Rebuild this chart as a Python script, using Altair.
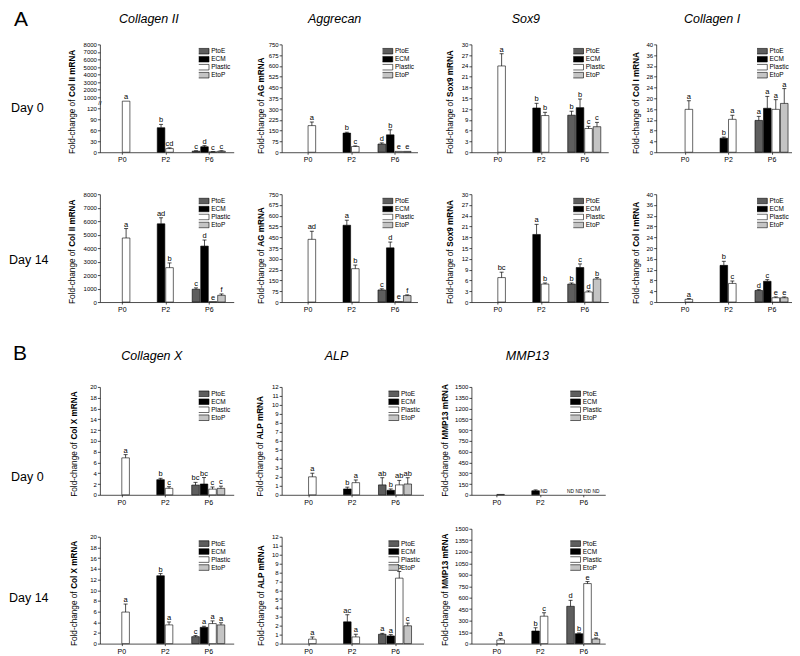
import altair as alt
import pandas as pd

FONT = "Liberation Sans"

groups = ["P0", "P2", "P6"]
series = ["PtoE", "ECM", "Plastic", "EtoP"]
series_fill = ["#5e5e5e", "#000000", "#ffffff", "#c4c4c4"]

# bars that exist in every panel, in this order
bar_group = ["P0", "P2", "P2", "P6", "P6", "P6", "P6"]
bar_series = ["Plastic", "ECM", "Plastic", "PtoE", "ECM", "Plastic", "EtoP"]

# ---- A: chondrogenic markers ----
col2_d0_mean = [690, 67, 10, 3, 15, 1, 3]
col2_d0_err = [0, 9, 2, 1, 3, 0.5, 1]
col2_d0_sig = ["a", "b", "cd", "c", "d", "c", "c"]
col2_d14_mean = [4750, 5800, 2550, 950, 4150, 30, 500]
col2_d14_err = [700, 450, 350, 100, 450, 0, 100]
col2_d14_sig = ["a", "ad", "b", "c", "d", "e", "f"]

agg_d0_mean = [185, 133, 40, 57, 121, 6, 6]
agg_d0_err = [25, 6, 4, 8, 35, 0, 0]
agg_d0_sig = ["a", "b", "c", "d", "b", "e", "e"]
agg_d14_mean = [436, 534, 232, 84, 377, 4, 45]
agg_d14_err = [56, 35, 25, 8, 40, 0, 5]
agg_d14_sig = ["ad", "a", "b", "c", "d", "e", "f"]

sox9_d0_mean = [24, 12.3, 10.2, 10.3, 12.4, 6.6, 7.1]
sox9_d0_err = [3.4, 1.3, 0.9, 1.1, 2.4, 0.6, 1.2]
sox9_d0_sig = ["a", "b", "b", "b", "b", "c", "c"]
sox9_d14_mean = [6.8, 18.8, 5.0, 5.0, 9.6, 2.8, 6.4]
sox9_d14_err = [1.5, 2.8, 0.3, 0.3, 1.0, 0.3, 0.4]
sox9_d14_sig = ["bc", "a", "b", "b", "c", "d", "b"]

col1_d0_mean = [15.9, 5.2, 12.2, 11.8, 16.3, 15.9, 18.1]
col1_d0_err = [3.2, 0.4, 1.5, 1.5, 4.4, 3.6, 5.5]
col1_d0_sig = ["a", "b", "a", "a", "a", "a", "a"]
col1_d14_mean = [1.0, 13.6, 6.9, 4.3, 7.7, 1.6, 1.6]
col1_d14_err = [0.3, 1.5, 0.9, 0.3, 0.6, 0.3, 0.3]
col1_d14_sig = ["a", "b", "c", "d", "c", "e", "e"]

# ---- B: hypertrophic markers ----
colx_d0_mean = [6.85, 2.8, 1.2, 1.8, 2.0, 1.05, 1.2]
colx_d0_err = [0.6, 0.25, 0.3, 0.5, 1.2, 0.4, 0.4]
colx_d0_sig = ["a", "b", "c", "bc", "bc", "c", "c"]
colx_d14_mean = [5.9, 12.7, 3.5, 1.3, 3.05, 3.75, 3.5]
colx_d14_err = [1.5, 0.4, 0.55, 0.2, 0.2, 0.5, 0.4]
colx_d14_sig = ["a", "b", "a", "c", "a", "a", "a"]

alp_d0_mean = [2.0, 0.65, 1.35, 1.1, 0.5, 1.1, 1.2]
alp_d0_err = [0.4, 0.2, 0.3, 0.8, 0.15, 0.5, 0.7]
alp_d0_sig = ["a", "b", "a", "ab", "b", "ab", "ab"]
alp_d14_mean = [0.5, 2.44, 0.75, 1.05, 0.86, 7.35, 2.0]
alp_d14_err = [0.25, 0.8, 0.3, 0.1, 0.15, 0.75, 0.3]
alp_d14_sig = ["a", "ac", "a", "a", "a", "b", "c"]

mmp13_d0_mean = [5, 56, None, None, None, None, None]
mmp13_d0_err = [0, 12, 0, 0, 0, 0, 0]
mmp13_d0_sig = ["", "", "ND", "ND", "ND", "ND", "ND"]
mmp13_d14_mean = [47, 164, 358, 487, 129, 784, 60]
mmp13_d14_err = [20, 43, 45, 78, 10, 26, 13]
mmp13_d14_sig = ["a", "b", "c", "d", "b", "e", "a"]

# tick labels
col2_d0_ticks = [0, 30, 60, 90, 120, 1000, 2000, 3000, 4000, 5000, 6000, 7000, 8000]
col2_d14_ticks = [0, 1000, 2000, 3000, 4000, 5000, 6000, 7000, 8000]
agg_ticks = [0, 75, 150, 225, 300, 375, 450, 525, 600, 675, 750]
sox9_ticks = [0, 3, 6, 9, 12, 15, 18, 21, 24, 27, 30]
col1_ticks = [0, 4, 8, 12, 16, 20, 24, 28, 32, 36, 40]
colx_ticks = [0, 2, 4, 6, 8, 10, 12, 14, 16, 18, 20]
alp_ticks = [0, 1, 2, 3, 4, 5, 6, 7, 8, 9, 10, 11, 12]
mmp13_ticks = [0, 150, 300, 450, 600, 750, 900, 1050, 1200, 1350, 1500]

GROUP_STEP = 43.5  # px between group centres
SLOT = 8.5         # px per bar slot
BAR_HALF = 3.8
CAP_HALF = 2.0

XLABELS = " : ".join(f"datum.value == {i} ? '{g}'" for i, g in enumerate(groups)) + " : ''"

LEGEND = alt.Legend(
    title=None, orient="top-right", offset=3, padding=0,
    labelFontSize=6.5, labelFont=FONT, labelColor="black",
    symbolType="M-3.5,-1.4H3.5V1.4H-3.5Z", symbolSize=16,
    symbolStrokeColor="black", symbolStrokeWidth=0.6,
    labelOffset=6, rowPadding=0, clipHeight=7.7,
)

one = pd.DataFrame({"k": [0]})


def txt(text, x, y, size, align="left", baseline="alphabetic", style="normal", weight="normal", angle=0):
    return alt.Chart(one).mark_text(
        text=text, align=align, baseline=baseline, fontSize=size, font=FONT,
        fontStyle=style, fontWeight=weight, angle=angle, color="black",
    ).encode(x=alt.value(x), y=alt.value(y))


def panel(mean, err, sig, bold, ydom, yticks, width, height, p0_off, title_dx,
          yrange=None, extras=()):
    slot = SLOT / GROUP_STEP
    half = BAR_HALF / GROUP_STEP
    cap = CAP_HALF / GROUP_STEP
    rows = []
    for g, s, m, e, t in zip(bar_group, bar_series, mean, err, sig):
        xc = groups.index(g) + (series.index(s) - 1.5) * slot
        has = m is not None
        mv = m if has else 0
        rows.append({"group": g, "series": s, "mean": mv, "has": has, "err": e, "sig": t,
                     "xc": xc, "x0": xc - half, "x1": xc + half,
                     "capl": xc - cap, "capr": xc + cap, "top": mv + e})
    df = pd.DataFrame(rows)
    dbar = df[df["has"]]
    derr = df[df["has"] & (df["err"] > 0)]
    dsig = df[(df["sig"] != "") & (df["sig"] != "ND")]
    dnd = df[df["sig"] == "ND"]

    xs = alt.Scale(domain=[-p0_off / GROUP_STEP, (width - p0_off) / GROUP_STEP], nice=False, zero=False)
    ykw = dict(domain=ydom, nice=False, zero=False)
    if yrange is not None:
        ykw["range"] = yrange
    ys = alt.Scale(**ykw)
    xaxis = alt.Axis(values=[0, 1, 2], labelExpr=XLABELS, title=None, grid=False,
                     labelFontSize=7, tickSize=2, labelPadding=1.5, labelFlush=False)
    yaxis = alt.Axis(values=yticks, title=None, grid=False, format="d", labelFontSize=6,
                     tickSize=2.5, labelPadding=1, labelOverlap=False, labelFlush=False)

    def X(f):
        return alt.X(f, type="quantitative", scale=xs, axis=xaxis)

    def Y(f):
        return alt.Y(f, type="quantitative", scale=ys, axis=yaxis)

    layers = [
        alt.Chart(dbar).mark_rect(stroke="black", strokeWidth=0.6).encode(
            x=X("x0"), x2="x1", y=Y("mean"), y2=alt.datum(0),
            fill=alt.Fill("series:N", scale=alt.Scale(domain=series, range=series_fill), legend=LEGEND),
        ),
        alt.Chart(derr).mark_rule(color="black", strokeWidth=0.7).encode(
            x=X("xc"), y=Y("mean"), y2="top"),
        alt.Chart(derr).mark_rule(color="black", strokeWidth=0.7).encode(
            x=X("capl"), x2="capr", y=Y("top")),
    ]
    if len(dsig):
        layers.append(alt.Chart(dsig).mark_text(
            baseline="alphabetic", dy=-2, fontSize=7.5, font=FONT, color="black").encode(
            x=X("xc"), y=Y("top"), text="sig:N"))
    if len(dnd):
        layers.append(alt.Chart(dnd).mark_text(
            baseline="alphabetic", dy=-2, fontSize=4.8, font=FONT, color="black").encode(
            x=X("xc"), y=Y("top"), text="sig:N"))
    layers.append(txt("Fold-change of", title_dx, height / 2 + 1.3, 8.2, align="right",
                      baseline="middle", angle=270))
    layers.append(txt(bold, title_dx, height / 2 - 1.3, 8.2, align="left",
                      baseline="middle", angle=270, weight="bold"))
    layers.extend(extras)
    return alt.layer(*layers).properties(width=width, height=height)


def blank(w, h):
    return alt.Chart(one).mark_point(opacity=0, size=1).encode(
        x=alt.value(0), y=alt.value(0)).properties(width=w, height=h)


anchor = alt.Chart(one).mark_point(opacity=0, size=1).encode(x=alt.value(-91), y=alt.value(-35))

HA, HB1, HB2 = 108, 108, 107
TA, TB = -21.3, -27

cells = [
    panel(col2_d0_mean, col2_d0_err, col2_d0_sig, "Col II mRNA", [0, 120, 1000, 8000], col2_d0_ticks,
          134, HA, 22, -27, yrange=[108, 64, 53, 0],
          extras=[anchor, txt("A", -86, -18, 21), txt("Day 0", -89, 68, 12.5),
                  txt("//", 0, 59, 6, align="center", baseline="middle"),
                  txt("Collagen II", 49, TA, 12.5, align="center", style="italic")]),
    panel(agg_d0_mean, agg_d0_err, agg_d0_sig, "AG mRNA", [0, 750], agg_ticks, 136, HA, 26, -20,
          extras=[txt("Aggrecan", 53, TA, 12.5, align="center", style="italic")]),
    panel(sox9_d0_mean, sox9_d0_err, sox9_d0_sig, "Sox9 mRNA", [0, 30], sox9_ticks, 137, HA, 26, -20,
          extras=[txt("Sox9", 54.5, TA, 12.5, align="center", style="italic")]),
    panel(col1_d0_mean, col1_d0_err, col1_d0_sig, "Col I mRNA", [0, 40], col1_ticks, 136, HA, 28.5, -19,
          extras=[txt("Collagen I", 56, TA, 12.5, align="center", style="italic")]),

    panel(col2_d14_mean, col2_d14_err, col2_d14_sig, "Col II mRNA", [0, 8000], col2_d14_ticks,
          134, HA, 22, -27, extras=[txt("Day 14", -91, 69.5, 12.5)]),
    panel(agg_d14_mean, agg_d14_err, agg_d14_sig, "AG mRNA", [0, 750], agg_ticks, 136, HA, 26, -20),
    panel(sox9_d14_mean, sox9_d14_err, sox9_d14_sig, "Sox9 mRNA", [0, 30], sox9_ticks, 137, HA, 26, -20),
    panel(col1_d14_mean, col1_d14_err, col1_d14_sig, "Col I mRNA", [0, 40], col1_ticks, 136, HA, 28.5, -19),

    blank(1, 1), blank(1, 1), blank(1, 1), blank(1, 1),

    panel(colx_d0_mean, colx_d0_err, colx_d0_sig, "Col X mRNA", [0, 20], colx_ticks, 134, HB1, 21.5, -25,
          extras=[txt("B", -87, TB, 21), txt("Day 0", -89, 94, 12.5),
                  txt("Collagen X", 52, TB, 12.5, align="center", style="italic")]),
    panel(alp_d0_mean, alp_d0_err, alp_d0_sig, "ALP mRNA", [0, 12], alp_ticks, 142, HB1, 26.5, -21,
          extras=[txt("ALP", 55, TB, 12.5, align="center", style="italic")]),
    panel(mmp13_d0_mean, mmp13_d0_err, mmp13_d0_sig, "MMP13 mRNA", [0, 1500], mmp13_ticks, 134, HB1, 25, -25,
          extras=[txt("MMP13", 56, TB, 12.5, align="center", style="italic")]),
    blank(1, 1),

    panel(colx_d14_mean, colx_d14_err, colx_d14_sig, "Col X mRNA", [0, 20], colx_ticks, 134, HB2, 21.5, -25,
          extras=[txt("Day 14", -91, 65, 12.5)]),
    panel(alp_d14_mean, alp_d14_err, alp_d14_sig, "ALP mRNA", [0, 12], alp_ticks, 142, HB2, 26.5, -20),
    panel(mmp13_d14_mean, mmp13_d14_err, mmp13_d14_sig, "MMP13 mRNA", [0, 1500], mmp13_ticks, 134, HB2, 25, -25,
          yrange=[HB2, -8]),
    blank(1, 1),
]

chart = (
    alt.concat(*cells, columns=4, spacing={"row": 42, "column": 48}, bounds="flush")
    .resolve_scale(fill="independent")
    .resolve_legend(fill="independent")
    .properties(padding=0)
    .configure(font=FONT)
    .configure_view(stroke=None)
    .configure_axis(domainColor="black", domainWidth=0.7, tickColor="black", tickWidth=0.7,
                    labelColor="black", labelFont=FONT, grid=False)
)

chart.save("out.html", embed_options={"renderer": "svg", "actions": False})
